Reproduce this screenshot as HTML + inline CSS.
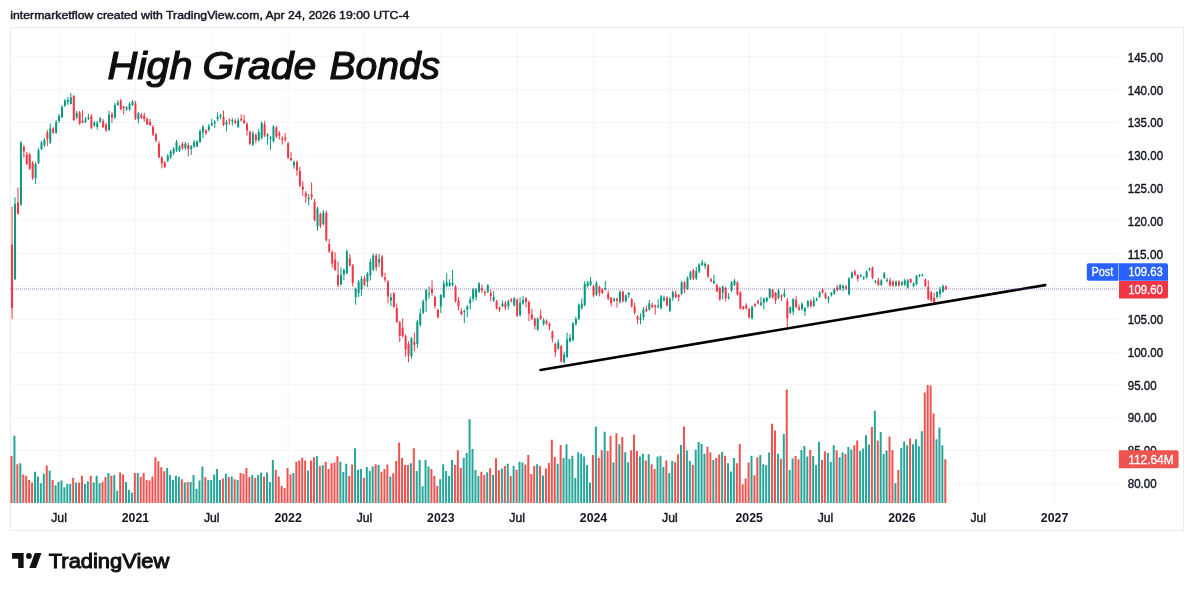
<!DOCTYPE html>
<html><head><meta charset="utf-8"><style>
html,body{margin:0;padding:0;background:#fff;}
body{width:1194px;height:591px;position:relative;overflow:hidden;font-family:"Liberation Sans",sans-serif;}
svg{position:absolute;left:0;top:0;will-change:transform;}
</style></head><body>
<svg width="1194" height="591" viewBox="0 0 1194 591" font-family="Liberation Sans, sans-serif">
<rect x="10.5" y="27.5" width="1173" height="503" fill="none" stroke="#ececec" stroke-width="1"/>
<g stroke="#f5f5f5" stroke-width="1" fill="none">
<path d="M10 483.2H1118M10 450.41H1118M10 417.63H1118M10 384.84H1118M10 352.06H1118M10 319.27H1118M10 286.49H1118M10 253.7H1118M10 220.92H1118M10 188.13H1118M10 155.35H1118M10 122.56H1118M10 89.78H1118M10 56.99H1118" shape-rendering="crispEdges"/>
<path d="M59.08 27V503M135.43 27V503M211.78 27V503M288.13 27V503M364.48 27V503M440.83 27V503M517.18 27V503M593.53 27V503M669.88 27V503M749.16 27V503M825.51 27V503M901.86 27V503M978.21 27V503M1054.56 27V503"/>
</g>
<g font-size="39" font-style="italic" fill="#0e0e0e" stroke="#0e0e0e" stroke-width="1.2"><text x="107.6" y="78.8" textLength="85" lengthAdjust="spacingAndGlyphs">High</text><text x="202.6" y="78.8" textLength="113.6" lengthAdjust="spacingAndGlyphs">Grade</text><text x="329.5" y="78.8" textLength="110.6" lengthAdjust="spacingAndGlyphs">Bonds</text></g>
<g>
<path d="M13.44 435.8h2V503h-2zM19.31 463.3h2V503h-2zM33.99 471.7h2V503h-2zM36.93 476.5h2V503h-2zM39.87 483.2h2V503h-2zM42.8 473.8h2V503h-2zM48.67 470.4h2V503h-2zM54.55 485.3h2V503h-2zM57.48 481.9h2V503h-2zM60.42 480.5h2V503h-2zM63.36 487.3h2V503h-2zM66.29 483.9h2V503h-2zM69.23 483.9h2V503h-2zM75.1 482.6h2V503h-2zM83.91 483.9h2V503h-2zM86.85 481.2h2V503h-2zM92.72 482.6h2V503h-2zM95.66 475.8h2V503h-2zM98.59 483.2h2V503h-2zM107.4 473.1h2V503h-2zM113.28 475.1h2V503h-2zM116.21 490.7h2V503h-2zM125.02 481.9h2V503h-2zM127.96 490h2V503h-2zM130.9 492.5h2V503h-2zM136.77 473.1h2V503h-2zM166.13 467.9h2V503h-2zM169.07 475.1h2V503h-2zM172.01 479.9h2V503h-2zM174.94 475.8h2V503h-2zM177.88 477.1h2V503h-2zM183.75 482.6h2V503h-2zM189.63 481.9h2V503h-2zM192.56 475.1h2V503h-2zM195.5 488.7h2V503h-2zM198.44 480.5h2V503h-2zM201.37 466.6h2V503h-2zM207.25 479.9h2V503h-2zM210.18 479.9h2V503h-2zM213.12 474.4h2V503h-2zM216.06 469h2V503h-2zM218.99 479.9h2V503h-2zM224.86 473.8h2V503h-2zM230.74 476.5h2V503h-2zM236.61 479.9h2V503h-2zM251.29 475.1h2V503h-2zM257.17 475.1h2V503h-2zM260.1 472.4h2V503h-2zM265.98 472.4h2V503h-2zM268.91 481.9h2V503h-2zM271.85 459.9h2V503h-2zM292.4 473.1h2V503h-2zM307.09 470.4h2V503h-2zM315.9 456.2h2V503h-2zM321.77 465.2h2V503h-2zM339.39 461.8h2V503h-2zM342.32 472h2V503h-2zM345.26 463.8h2V503h-2zM354.07 448.2h2V503h-2zM357.01 469.8h2V503h-2zM359.94 469.1h2V503h-2zM365.82 467.1h2V503h-2zM368.75 471h2V503h-2zM371.69 466.5h2V503h-2zM377.56 464.9h2V503h-2zM389.31 476.4h2V503h-2zM409.86 463.3h2V503h-2zM415.74 471h2V503h-2zM418.67 459.9h2V503h-2zM421.61 486.3h2V503h-2zM424.55 459.9h2V503h-2zM427.48 466.5h2V503h-2zM439.23 479.3h2V503h-2zM442.17 464.2h2V503h-2zM445.1 471h2V503h-2zM448.04 475.9h2V503h-2zM450.98 459.9h2V503h-2zM462.72 457.9h2V503h-2zM465.66 453.1h2V503h-2zM468.59 419.2h2V503h-2zM471.53 449h2V503h-2zM474.47 469.9h2V503h-2zM477.4 475.9h2V503h-2zM486.21 472.3h2V503h-2zM492.09 475.1h2V503h-2zM500.9 468.6h2V503h-2zM506.77 463.8h2V503h-2zM512.64 465.9h2V503h-2zM518.51 461.7h2V503h-2zM521.45 462.5h2V503h-2zM536.13 464.3h2V503h-2zM542.01 475.5h2V503h-2zM556.69 463.8h2V503h-2zM562.56 457.9h2V503h-2zM565.5 444.2h2V503h-2zM568.44 459h2V503h-2zM571.37 455.8h2V503h-2zM574.31 478h2V503h-2zM577.24 452.2h2V503h-2zM580.18 453.7h2V503h-2zM583.12 456.6h2V503h-2zM586.05 465.1h2V503h-2zM588.99 482.6h2V503h-2zM594.86 426.4h2V503h-2zM603.67 431.7h2V503h-2zM612.48 462.2h2V503h-2zM618.36 444.2h2V503h-2zM624.23 452.2h2V503h-2zM627.17 462.2h2V503h-2zM638.91 456.6h2V503h-2zM641.85 453.7h2V503h-2zM647.72 454.2h2V503h-2zM656.53 456.6h2V503h-2zM659.47 455.8h2V503h-2zM662.4 467h2V503h-2zM668.28 473.1h2V503h-2zM671.21 461.1h2V503h-2zM680.02 445h2V503h-2zM685.89 450.5h2V503h-2zM688.83 461.1h2V503h-2zM694.7 449.8h2V503h-2zM697.64 442h2V503h-2zM700.58 443.9h2V503h-2zM703.51 453.7h2V503h-2zM712.32 460h2V503h-2zM721.13 452h2V503h-2zM727.01 463.2h2V503h-2zM729.94 471.4h2V503h-2zM732.88 457.9h2V503h-2zM750.5 455.8h2V503h-2zM759.31 455.1h2V503h-2zM762.24 464.2h2V503h-2zM765.18 465.3h2V503h-2zM768.12 452.6h2V503h-2zM776.93 453.7h2V503h-2zM782.8 434h2V503h-2zM788.67 470h2V503h-2zM791.61 458.5h2V503h-2zM800.42 450.1h2V503h-2zM803.36 445.9h2V503h-2zM806.29 456.5h2V503h-2zM812.16 456h2V503h-2zM815.1 464.9h2V503h-2zM818.04 441.8h2V503h-2zM826.85 453h2V503h-2zM829.78 461.9h2V503h-2zM832.72 445.3h2V503h-2zM838.59 457.2h2V503h-2zM841.53 452.4h2V503h-2zM847.4 447.1h2V503h-2zM850.34 449.4h2V503h-2zM859.15 450.7h2V503h-2zM862.09 448.4h2V503h-2zM865.02 435.2h2V503h-2zM867.96 444.4h2V503h-2zM873.83 410.7h2V503h-2zM879.7 432h2V503h-2zM882.64 453.9h2V503h-2zM885.58 450.6h2V503h-2zM894.39 483.2h2V503h-2zM900.26 447.9h2V503h-2zM903.2 441.4h2V503h-2zM906.13 445.3h2V503h-2zM912.01 444.2h2V503h-2zM914.94 439.3h2V503h-2zM917.88 446.2h2V503h-2zM920.82 431.3h2V503h-2zM935.5 439.3h2V503h-2zM938.43 427.5h2V503h-2zM941.37 445.3h2V503h-2z" fill="#26a69a"/>
<path d="M10.5 455.9h2V503h-2zM16.37 464.3h2V503h-2zM22.25 474.4h2V503h-2zM25.18 475.8h2V503h-2zM28.12 479.9h2V503h-2zM31.06 482.6h2V503h-2zM45.74 465.6h2V503h-2zM51.61 479.9h2V503h-2zM72.17 477.8h2V503h-2zM78.04 482.6h2V503h-2zM80.98 475.8h2V503h-2zM89.79 475.8h2V503h-2zM101.53 481.9h2V503h-2zM104.47 477.1h2V503h-2zM110.34 475.8h2V503h-2zM119.15 472.4h2V503h-2zM122.09 474.4h2V503h-2zM133.83 473.1h2V503h-2zM139.71 477.1h2V503h-2zM142.64 473.1h2V503h-2zM145.58 479.9h2V503h-2zM148.52 480.5h2V503h-2zM151.45 476.5h2V503h-2zM154.39 457.2h2V503h-2zM157.33 461.2h2V503h-2zM160.26 467.3h2V503h-2zM163.2 471.3h2V503h-2zM180.82 479.2h2V503h-2zM186.69 481.9h2V503h-2zM204.31 477.1h2V503h-2zM221.93 478.5h2V503h-2zM227.8 477.1h2V503h-2zM233.67 479.2h2V503h-2zM239.55 473.1h2V503h-2zM242.48 473.8h2V503h-2zM245.42 467.9h2V503h-2zM248.36 477.1h2V503h-2zM254.23 477.8h2V503h-2zM263.04 476.5h2V503h-2zM274.79 470h2V503h-2zM277.72 476.5h2V503h-2zM280.66 486h2V503h-2zM283.59 488h2V503h-2zM286.53 467.9h2V503h-2zM289.47 474.4h2V503h-2zM295.34 461.8h2V503h-2zM298.28 460.5h2V503h-2zM301.21 457.8h2V503h-2zM304.15 460.5h2V503h-2zM310.02 460.5h2V503h-2zM312.96 457.2h2V503h-2zM318.83 465.9h2V503h-2zM324.71 461.8h2V503h-2zM327.64 469h2V503h-2zM330.58 463.2h2V503h-2zM333.51 462.5h2V503h-2zM336.45 456.2h2V503h-2zM348.2 476h2V503h-2zM351.13 464.5h2V503h-2zM362.88 477.7h2V503h-2zM374.63 464.2h2V503h-2zM380.5 471.8h2V503h-2zM383.44 469.1h2V503h-2zM386.37 464.5h2V503h-2zM392.25 473.2h2V503h-2zM395.18 461h2V503h-2zM398.12 442.4h2V503h-2zM401.05 457.9h2V503h-2zM403.99 464.9h2V503h-2zM406.93 464.9h2V503h-2zM412.8 448.2h2V503h-2zM430.42 469.1h2V503h-2zM433.36 475.9h2V503h-2zM436.29 485.8h2V503h-2zM453.91 464.9h2V503h-2zM456.85 450.3h2V503h-2zM459.78 467.8h2V503h-2zM480.34 471.8h2V503h-2zM483.28 475.1h2V503h-2zM489.15 468.3h2V503h-2zM495.02 458.2h2V503h-2zM497.96 470.2h2V503h-2zM503.83 465.9h2V503h-2zM509.71 475.9h2V503h-2zM515.58 469.8h2V503h-2zM524.39 464.6h2V503h-2zM527.32 455h2V503h-2zM530.26 473.9h2V503h-2zM533.2 465.9h2V503h-2zM539.07 465.9h2V503h-2zM544.94 468.6h2V503h-2zM547.88 463h2V503h-2zM550.82 439.7h2V503h-2zM553.75 457.1h2V503h-2zM559.63 445h2V503h-2zM591.93 455h2V503h-2zM597.8 457.9h2V503h-2zM600.74 450.2h2V503h-2zM606.61 451h2V503h-2zM609.55 435.7h2V503h-2zM615.42 433.3h2V503h-2zM621.29 437h2V503h-2zM630.1 450.2h2V503h-2zM633.04 434.4h2V503h-2zM635.97 451h2V503h-2zM644.78 460.6h2V503h-2zM650.66 464.3h2V503h-2zM653.59 469.1h2V503h-2zM665.34 460.6h2V503h-2zM674.15 462.2h2V503h-2zM677.09 454.2h2V503h-2zM682.96 426.4h2V503h-2zM691.77 464.7h2V503h-2zM706.45 446.7h2V503h-2zM709.39 452.6h2V503h-2zM715.26 457.9h2V503h-2zM718.2 454.5h2V503h-2zM724.07 455.8h2V503h-2zM735.82 463.2h2V503h-2zM738.75 443.9h2V503h-2zM741.69 484.3h2V503h-2zM744.62 478.4h2V503h-2zM747.56 462.5h2V503h-2zM753.43 475.2h2V503h-2zM756.37 457.2h2V503h-2zM771.05 423.8h2V503h-2zM773.99 430.4h2V503h-2zM779.86 458.7h2V503h-2zM785.74 389.5h2V503h-2zM794.55 455.9h2V503h-2zM797.48 459.3h2V503h-2zM809.23 450.1h2V503h-2zM820.97 460.1h2V503h-2zM823.91 451.2h2V503h-2zM835.66 450.3h2V503h-2zM844.47 453.9h2V503h-2zM853.28 445.3h2V503h-2zM856.21 440.5h2V503h-2zM870.89 427h2V503h-2zM876.77 440.5h2V503h-2zM888.51 436.5h2V503h-2zM891.45 450h2V503h-2zM897.32 470.1h2V503h-2zM909.07 438.6h2V503h-2zM923.75 392.6h2V503h-2zM926.69 384.9h2V503h-2zM929.62 385.5h2V503h-2zM932.56 413.5h2V503h-2zM944.31 459.3h2V503h-2z" fill="#ef5350"/>
</g>
<g stroke-width="1.0">
<path d="M15.04 197.3V279.5M20.91 141V206M35.59 162V184M38.53 148V164M41.47 141V150M44.4 138V147M50.27 123.5V144M56.15 120V134M59.08 114V123M62.02 105V118M64.96 99V107M67.89 97V105M70.83 93V104.5M76.7 111V119M85.51 117V123M88.45 114V120M94.32 121V127M97.26 121V129.5M100.19 117V123M109 110.8V131M114.88 103V119M117.81 100V106M126.62 106V111M129.56 102V111M132.5 100V106M138.37 112V123.5M167.73 154V162M170.67 150V159M173.61 147V155M176.54 140V152M179.48 145V152M185.35 142V150M191.23 145V154.8M194.16 140V148M197.1 140V147M200.04 129V143M202.97 125V138.1M208.85 124V131.5M211.78 118.9V126M214.72 120V128M217.66 112.3V121.4M220.59 113.8V119.4M226.46 120V131.5M232.34 118V125.5M238.21 117.8V128M252.89 131V146M258.77 129V141.5M261.7 121.5V139.5M267.58 133V144.7M270.51 136V149.8M273.45 125V142.5M294 160.5V168.8M308.69 194V205.3M317.5 207V230.7M323.37 210V225.5M340.99 267.4V285.5M343.92 268.5V280.3M346.86 249.4V274.5M355.67 287.5V304.7M358.61 280V297.2M361.54 276.2V295.9M367.42 272.2V287M370.35 259V280.3M373.29 253.5V271M379.16 254V267M390.91 293.2V306M411.46 337V358.9M417.34 320V348M420.27 308.9V326.5M423.21 299.5V314.2M426.15 289V312M429.08 286.4V298.8M440.83 294V313M443.77 280.5V298.5M446.7 273.4V287M449.64 279.3V287M452.58 269.8V286.5M464.32 309.5V323.1M467.26 305V317.2M470.19 296.5V309.5M473.13 288V301.8M476.07 288V300.6M479 282V293M487.81 284V293M493.69 291.1V302M502.5 300.6V307.1M508.37 300V309.5M514.24 297V306.6M520.11 297.5V316.5M523.05 296V305M537.73 317.3V331M543.61 318V325.7M558.29 339.4V350M564.16 351.5V363.5M567.1 332.5V358M570.04 334V342.4M572.97 322V341.5M575.91 316.5V325.5M578.84 303.5V320M581.78 298.3V309.5M584.72 281V306.5M587.65 281V287.5M590.59 277.2V286M596.46 281V296M605.27 281V290.5M614.08 297.5V302M619.96 290.5V303.5M625.83 294.5V302.5M628.77 292V298.1M640.51 313.4V324.2M643.45 307V320.4M649.32 300V310.8M658.13 299.4V308.3M661.07 295V309.5M664 295.5V301.5M669.88 297.3V312M672.81 290.5V300.8M681.62 281V295M687.5 276.5V290M690.43 270.8V280M696.3 267.1V280M699.24 263.2V273M702.18 260V266M705.11 262V269M713.92 274.7V284.3M722.73 285.5V299.5M728.61 293.2V299.5M731.54 281V292M734.48 279V286M752.1 305.5V319.5M760.91 296.8V306.3M763.84 297.5V309.5M766.78 296.8V302.5M769.72 288V298.7M778.53 288.6V299.3M784.4 288.6V297.5M790.27 306.3V314M793.21 298V315.2M802.02 302.5V310.8M804.96 307V315.8M807.89 300V308.2M813.76 296.8V307M816.7 297.4V301.2M819.64 291.1V298M828.45 296.1V303.1M831.38 292V296.5M834.32 288V294.8M840.19 284V290.5M843.13 284.6V291.2M849 277.2V295.5M851.94 271.5V279M860.75 274V277.5M863.69 276V280M866.62 270.2V278.5M869.56 267.7V271M875.43 280V283.5M881.3 279V286M884.24 272V279M887.18 277.8V282.3M895.99 280.4V286.7M901.86 281V286M904.8 278.5V286M907.73 279V288.6M913.61 282.3V287.3M916.54 274.8V285.5M919.48 274V277M922.42 273.5V276.5M937.1 291V298.5M940.03 286.9V297.6M942.97 284.4V292.8" stroke="#089981"/>
<path d="M12.1 206.7V319.1M17.97 187.6V215M23.85 145V157.8M26.78 152V165M29.72 153V170M32.66 161V180M47.34 130V146M53.21 127V134M73.77 95V121M79.64 111V125M82.58 110.2V123.2M91.39 114V129M103.13 119V128M106.07 123V132M111.94 112V123M120.75 99V110M123.69 105.8V114.6M135.43 101V120M141.31 112.8V119M144.24 112.8V121.9M147.18 117.5V125M150.12 118.9V126M153.05 125V136M155.99 133V142M158.93 141.3V158M161.86 156V168.4M164.8 161V168M182.42 142V150M188.29 143V156M205.91 129V135M223.53 110.7V126M229.4 118.4V125M235.27 119V124M241.15 114.3V121.5M244.08 114.8V124M247.02 122V135.6M249.96 130.5V145M255.83 133.5V143.2M264.64 120.9V137M276.39 126V138M279.32 131V139.7M282.26 136.3V144.6M285.19 133V141.7M288.13 142V159M291.07 152V161M296.94 160.5V175.6M299.88 167V187M302.81 181V196M305.75 191V202.8M311.62 182.4V200M314.56 199V221.5M320.43 212.5V228M326.31 210.5V241.5M329.24 239V253M332.18 250.5V267.7M335.12 252V271M338.05 261.6V287M349.8 254V266.5M352.73 264V286.4M364.48 275.6V286.4M376.23 253.5V270.8M382.1 255V277.5M385.04 272.9V282.3M387.97 280V303.3M393.85 292V308M396.78 303.4V323M399.72 321V342M402.65 318.3V337.5M405.59 334.5V356.8M408.53 341.3V362.2M414.4 332.5V351.4M432.02 280.5V295.9M434.96 295.5V308.9M437.89 308.5V318.5M455.51 285V302.5M458.45 297V310.7M461.38 308.3V315.4M481.94 284.6V292.9M484.88 290.5V295.9M490.75 289.4V301.2M496.62 300V309.5M499.56 306.5V311.9M505.43 301V310M511.31 298.2V302.4M517.18 298.5V317M525.99 297V307.4M528.92 300.5V321.1M531.86 308.9V320M534.8 317.5V329.5M540.67 309.7V320M546.54 319.5V325M549.48 322.5V330.2M552.42 330.5V342.4M555.35 342.5V356.9M561.23 345V362.7M593.53 285V297M599.4 285.5V296.3M602.34 288V294.3M608.21 290.5V300M611.15 297V306.4M617.02 297.5V307.7M622.89 290.5V302.5M631.7 298V307.5M634.64 302.6V314.6M637.57 315V324.2M646.38 305.8V312M652.26 302.6V308.3M655.19 304.5V314.6M666.94 296.3V306.5M675.75 290.6V298.3M678.69 293.8V301.4M684.56 281V293.1M693.37 269V280M708.05 264V278M710.99 278V282.4M716.86 283.5V292.5M719.8 286.8V300.8M725.67 286.8V301.4M737.42 281V295.6M740.35 291.2V309.7M743.29 305.8V309.7M746.23 303.3V309.5M749.16 307.7V318.5M755.03 303.1V307.2M757.97 299.4V304.5M772.65 289.2V298.7M775.59 291.8V303.8M781.46 294.3V301.2M787.34 298V328.5M796.15 296.2V308.3M799.08 304.4V310.8M810.83 299.3V307.6M822.57 288V293.6M825.51 292.4V299.3M837.26 285V291.5M846.07 284.8V290M854.88 269.6V276M857.81 274V281.6M872.49 266.5V279M878.37 277.8V286M890.11 277.8V286.7M893.05 280.4V286.7M898.92 280.4V286.7M910.67 278.5V283.5M925.35 278.5V287M928.29 280.5V300M931.22 291V302M934.16 292.5V304M945.91 285.4V290.5" stroke="#F23645"/>
</g>
<path d="M14.04 204.1h2v75.4h-2zM19.91 142.6h2v61.9h-2zM34.59 164.1h2v14h-2zM37.53 150.2h2v12.7h-2zM40.47 142.6h2v6.3h-2zM43.4 140h2v5.1h-2zM49.27 128.6h2v14h-2zM55.15 122.3h2v10.1h-2zM58.08 115.9h2v5.1h-2zM61.02 107h2v10.2h-2zM63.96 100.7h2v5.1h-2zM66.89 100h2v2h-2zM69.83 97.5h2v6.4h-2zM75.7 113h2v4.6h-2zM84.51 119.3h2v2.5h-2zM87.45 117.2h2v1.9h-2zM93.32 122.7h2v2.5h-2zM96.26 122.7h2v4.2h-2zM99.19 118.5h2v3.3h-2zM108 114.6h2v15.3h-2zM113.88 104.9h2v12.7h-2zM116.81 102.4h2v2.5h-2zM125.62 107.5h2v1.7h-2zM128.56 104h2v5.2h-2zM131.5 101.5h2v3.4h-2zM137.37 113.4h2v5.9h-2zM166.73 155.7h2v5.1h-2zM169.67 151.5h2v5.9h-2zM172.61 148.9h2v4.2h-2zM175.54 142.1h2v8.5h-2zM178.48 146.4h2v4.2h-2zM184.35 143.8h2v4.3h-2zM190.23 146.4h2v2.5h-2zM193.16 142.1h2v4.3h-2zM196.1 141.7h2v4.7h-2zM199.04 131h2v11.1h-2zM201.97 126.5h2v6.1h-2zM207.85 126h2v4h-2zM210.78 123.4h2v2.1h-2zM213.72 121.9h2v1.5h-2zM216.66 116.8h2v2.1h-2zM219.59 115.3h2v1.5h-2zM225.46 121.9h2v2.5h-2zM231.34 119.9h2v1.5h-2zM237.21 120.4h2v6.6h-2zM251.89 133.6h2v11.1h-2zM257.77 132h2v8.2h-2zM260.7 122.9h2v15.2h-2zM266.58 134.6h2v2h-2zM269.51 137.6h2v1.6h-2zM272.45 127h2v14.2h-2zM293 162h2v3.4h-2zM307.69 197.7h2v1.5h-2zM316.5 208.4h2v18.2h-2zM322.37 212.4h2v11.6h-2zM339.99 274.9h2v9.5h-2zM342.92 270h2v4.2h-2zM345.86 251.4h2v21.6h-2zM354.67 289h2v8.2h-2zM357.61 281.7h2v11.5h-2zM360.54 279h2v10h-2zM366.42 273.5h2v8.2h-2zM369.35 262h2v13.6h-2zM372.29 255.5h2v14h-2zM378.16 258.9h2v3.8h-2zM389.91 297.2h2v3.4h-2zM410.46 338.6h2v17.6h-2zM416.34 321.5h2v22.5h-2zM419.27 313.6h2v11.4h-2zM422.21 301.3h2v11.4h-2zM425.15 290h2v10.6h-2zM428.08 293.5h2v1.2h-2zM439.83 295.3h2v11.2h-2zM442.77 283.4h2v13.6h-2zM445.7 282.3h2v3.5h-2zM448.64 282.8h2v3h-2zM451.58 282.8h2v2.4h-2zM463.32 310.7h2v1.2h-2zM466.26 306.5h2v3h-2zM469.19 299.4h2v4.2h-2zM472.13 289.4h2v9.4h-2zM475.07 289.4h2v7.6h-2zM478 283.4h2v8.3h-2zM486.81 285.2h2v6.5h-2zM492.69 297h2v3.6h-2zM501.5 303.6h2v2.9h-2zM507.37 301.3h2v4.7h-2zM513.24 298.2h2v6.9h-2zM519.11 302.8h2v12.2h-2zM522.05 299.8h2v3.8h-2zM536.73 318.8h2v10.7h-2zM542.61 320.3h2v3.8h-2zM557.29 342.4h2v6.1h-2zM563.16 354.6h2v7.6h-2zM566.1 339.4h2v17.5h-2zM569.04 337.8h2v3.1h-2zM571.97 323.4h2v16.7h-2zM574.91 319h2v5.2h-2zM577.84 304.8h2v14.2h-2zM580.78 303.8h2v4.4h-2zM583.72 284h2v21.1h-2zM586.65 282.6h2v3.5h-2zM589.59 281.2h2v3.5h-2zM595.46 283h2v11.8h-2zM604.27 288h2v1.3h-2zM613.08 298.8h2v1.9h-2zM618.96 291.8h2v10.2h-2zM624.83 295.6h2v5.7h-2zM627.77 293.1h2v1.9h-2zM639.51 317.8h2v1.9h-2zM642.45 309.6h2v7.6h-2zM648.32 303.2h2v6.4h-2zM657.13 305.8h2v1.2h-2zM660.07 296.6h2v11.7h-2zM663 297.8h2v2.6h-2zM668.88 298.5h2v12.4h-2zM671.81 292h2v5.8h-2zM680.62 282.4h2v11.4h-2zM686.5 277.9h2v10.8h-2zM689.43 272.2h2v6.4h-2zM695.3 271h2v7.6h-2zM698.24 264.6h2v7h-2zM701.18 262.6h2v2.5h-2zM704.11 264h2v1.9h-2zM712.92 281.1h2v1.9h-2zM721.73 286.8h2v5.7h-2zM727.61 297h2v1.2h-2zM730.54 282.4h2v8.2h-2zM733.48 280.5h2v4.4h-2zM751.1 306.8h2v11.4h-2zM759.91 302.5h2v2.5h-2zM762.84 298.7h2v3.8h-2zM765.78 298h2v3.2h-2zM768.72 289.2h2v8.2h-2zM777.53 290.5h2v7.5h-2zM783.4 293.6h2v2.6h-2zM789.27 307.6h2v5.1h-2zM792.21 299.3h2v12.1h-2zM801.02 303.8h2v5.1h-2zM803.96 308.2h2v3.2h-2zM806.89 301.2h2v5.1h-2zM812.76 300.6h2v5.1h-2zM815.7 298.7h2v1.9h-2zM818.64 292.4h2v4.4h-2zM827.45 297.4h2v1.9h-2zM830.38 293h2v2.3h-2zM833.32 289.2h2v4.4h-2zM839.19 285.1h2v4.1h-2zM842.13 285.8h2v2.2h-2zM848 278.5h2v15.8h-2zM850.94 272.8h2v5h-2zM859.75 275.3h2v1h-2zM862.69 277.2h2v1.3h-2zM865.62 271.5h2v5.7h-2zM868.56 268.3h2v1.3h-2zM874.43 281.3h2v1h-2zM880.3 280.4h2v4.4h-2zM883.24 273.4h2v4.4h-2zM886.18 279.7h2v1.3h-2zM894.99 281.6h2v3.9h-2zM900.86 282.3h2v2.5h-2zM903.8 280.4h2v4.4h-2zM906.73 280.4h2v7h-2zM912.61 283.5h2v2.6h-2zM915.54 276h2v8.2h-2zM918.48 275h2v1h-2zM921.42 274.7h2v1h-2zM936.1 292h2v5.1h-2zM939.03 289.4h2v4.6h-2zM941.97 285.9h2v5.6h-2z" fill="#089981"/>
<path d="M11.1 244.7h2v63.5h-2zM16.97 202.3h2v11.2h-2zM22.85 146.9h2v4.6h-2zM25.78 154.5h2v9.6h-2zM28.72 154.5h2v14.2h-2zM31.66 162.9h2v15.2h-2zM46.34 132.4h2v6.4h-2zM52.21 128.6h2v3.8h-2zM72.77 96.1h2v24h-2zM78.64 112.5h2v11h-2zM81.58 121h2v1.7h-2zM90.39 115.9h2v11.9h-2zM102.13 121h2v5.9h-2zM105.07 124.4h2v5.9h-2zM110.94 114.2h2v3.4h-2zM119.75 100.7h2v8.5h-2zM122.69 106.5h2v1.5h-2zM134.43 103.2h2v15.3h-2zM140.31 115.3h2v2.5h-2zM143.24 115.8h2v3.1h-2zM146.18 118.9h2v5.5h-2zM149.12 121.9h2v3.1h-2zM152.05 126.9h2v7.6h-2zM154.99 134.5h2v6h-2zM157.93 143.8h2v13.6h-2zM160.86 157.4h2v5.9h-2zM163.8 162.5h2v4.2h-2zM181.42 143.8h2v4.3h-2zM187.29 145.2h2v3.8h-2zM204.91 130.5h2v2.6h-2zM222.53 116.8h2v8.2h-2zM228.4 119.4h2v1h-2zM234.27 120.9h2v2h-2zM240.15 118.9h2v1.5h-2zM243.08 120.4h2v2.5h-2zM246.02 123.9h2v6.6h-2zM248.96 132h2v11.7h-2zM254.83 135.1h2v5.1h-2zM263.64 124.4h2v11.2h-2zM275.39 127.5h2v9.1h-2zM278.32 133.6h2v2h-2zM281.26 138.5h2v1.5h-2zM284.19 137.6h2v1.6h-2zM287.13 143.4h2v14.3h-2zM290.07 158.3h2v2h-2zM295.94 162h2v8.2h-2zM298.88 170.9h2v14.8h-2zM301.81 186.4h2v3.2h-2zM304.75 193.1h2v3.6h-2zM310.62 194.6h2v2.6h-2zM313.56 201.8h2v18.2h-2zM319.43 213.9h2v11.7h-2zM325.31 212.9h2v27.4h-2zM328.24 244h2v7.4h-2zM331.18 252h2v11.6h-2zM334.12 259.5h2v10.2h-2zM337.05 275h2v10h-2zM348.8 258.2h2v7.2h-2zM351.73 265.4h2v17.6h-2zM363.48 278.3h2v6.7h-2zM375.23 255.5h2v11.9h-2zM381.1 256.8h2v19.4h-2zM384.04 277.6h2v2h-2zM386.97 281.7h2v14.8h-2zM392.85 293.2h2v13.5h-2zM395.78 308.1h2v13.6h-2zM398.72 322.3h2v13.6h-2zM401.65 327.7h2v8.2h-2zM404.59 335.9h2v13.5h-2zM407.53 344h2v11.5h-2zM413.4 342h2v2.7h-2zM431.02 288.8h2v4.1h-2zM433.96 297h2v9h-2zM436.89 310h2v7.2h-2zM454.51 286.4h2v14.8h-2zM457.45 300.6h2v5.9h-2zM460.38 311.3h2v2.9h-2zM480.94 288.2h2v2.3h-2zM483.88 291.7h2v1.2h-2zM489.75 292.9h2v3h-2zM495.62 301.2h2v7.1h-2zM498.56 307.7h2v1.8h-2zM504.43 303.5h2v4h-2zM510.31 299.4h2v1.8h-2zM516.18 299.8h2v16h-2zM524.99 298.3h2v3.7h-2zM527.92 302h2v11.5h-2zM530.86 314.2h2v4.6h-2zM533.8 318.8h2v6.9h-2zM539.67 315.8h2v3h-2zM545.54 321.1h2v2.3h-2zM548.48 324.1h2v2.3h-2zM551.42 331.8h2v6.8h-2zM554.35 343.9h2v8.4h-2zM560.23 346.2h2v15.2h-2zM592.53 286.1h2v9.3h-2zM598.4 287.1h2v5.6h-2zM601.34 289.3h2v3.8h-2zM607.21 293.7h2v5.1h-2zM610.15 298.1h2v5.1h-2zM616.02 298.8h2v1.9h-2zM621.89 291.8h2v9.5h-2zM630.7 299.4h2v7h-2zM633.64 306.4h2v6.3h-2zM636.57 316.5h2v3.2h-2zM645.38 308.9h2v1.9h-2zM651.26 305.1h2v1.9h-2zM654.19 305.8h2v1.2h-2zM665.94 297.5h2v7.7h-2zM674.75 293.8h2v3.2h-2zM677.69 295h2v2h-2zM683.56 282.4h2v6.9h-2zM692.37 270.3h2v8.3h-2zM707.05 265.2h2v11.4h-2zM709.99 279.2h2v1.9h-2zM715.86 284.9h2v6.3h-2zM718.8 288h2v11.5h-2zM724.67 288h2v10.2h-2zM736.42 282.4h2v12h-2zM739.35 292.5h2v15.9h-2zM742.29 306.5h2v2.5h-2zM745.23 305.4h2v2.9h-2zM748.16 308.9h2v8.3h-2zM754.03 304.2h2v1.8h-2zM756.97 301.3h2v1.9h-2zM771.65 289.8h2v7.6h-2zM774.59 293h2v7h-2zM780.46 295.5h2v1.3h-2zM786.34 301.2h2v17.2h-2zM795.15 300h2v7h-2zM798.08 307.6h2v1.9h-2zM809.83 301.2h2v5.1h-2zM821.57 289.8h2v2.6h-2zM824.51 293.6h2v4.4h-2zM836.26 287.3h2v2.9h-2zM845.07 286.7h2v1.9h-2zM853.88 271.5h2v3.2h-2zM856.81 275.3h2v3.8h-2zM871.49 267.7h2v10.1h-2zM877.37 280.4h2v4.4h-2zM889.11 280.4h2v5.1h-2zM892.05 281.6h2v3.9h-2zM897.92 281.6h2v3.9h-2zM909.67 279.1h2v3.2h-2zM924.35 279.5h2v6.2h-2zM927.29 286.9h2v11.8h-2zM930.22 292.5h2v8.1h-2zM933.16 298.1h2v4.5h-2zM944.91 286.4h2v2.5h-2z" fill="#F23645"/>
<line x1="540.5" y1="370" x2="1045.2" y2="285.1" stroke="#000" stroke-width="2.6" stroke-linecap="round"/>
<g stroke-width="1" fill="none" shape-rendering="crispEdges">
<line x1="10" y1="288.5" x2="1118" y2="288.5" stroke="#2962FF" stroke-opacity="0.35" stroke-dasharray="1 1"/>
<line x1="10" y1="289.5" x2="1118" y2="289.5" stroke="#F23645" stroke-opacity="0.35" stroke-dasharray="1 1"/>
</g>
<g font-size="12" fill="#131722" stroke="#131722" stroke-width="0.4">
<text x="1127.8" y="488" textLength="28.83" lengthAdjust="spacingAndGlyphs">80.00</text><text x="1127.8" y="422.43" textLength="28.83" lengthAdjust="spacingAndGlyphs">90.00</text><text x="1127.8" y="389.64" textLength="28.83" lengthAdjust="spacingAndGlyphs">95.00</text><text x="1127.8" y="356.86" textLength="35.24" lengthAdjust="spacingAndGlyphs">100.00</text><text x="1127.8" y="324.07" textLength="35.24" lengthAdjust="spacingAndGlyphs">105.00</text><text x="1127.8" y="258.5" textLength="35.24" lengthAdjust="spacingAndGlyphs">115.00</text><text x="1127.8" y="225.72" textLength="35.24" lengthAdjust="spacingAndGlyphs">120.00</text><text x="1127.8" y="192.94" textLength="35.24" lengthAdjust="spacingAndGlyphs">125.00</text><text x="1127.8" y="160.15" textLength="35.24" lengthAdjust="spacingAndGlyphs">130.00</text><text x="1127.8" y="127.36" textLength="35.24" lengthAdjust="spacingAndGlyphs">135.00</text><text x="1127.8" y="94.58" textLength="35.24" lengthAdjust="spacingAndGlyphs">140.00</text><text x="1127.8" y="61.79" textLength="35.24" lengthAdjust="spacingAndGlyphs">145.00</text><text x="1127.8" y="455.21" textLength="28.83" lengthAdjust="spacingAndGlyphs">85.00</text>
</g>
<g font-size="12" fill="#131722" stroke="#131722" stroke-width="0.4">
<text x="51.28" y="521.7" textLength="15.6" lengthAdjust="spacingAndGlyphs">Jul</text><text x="121.73" y="521.7" textLength="27.4" lengthAdjust="spacingAndGlyphs" font-weight="bold" stroke-width="0">2021</text><text x="203.98" y="521.7" textLength="15.6" lengthAdjust="spacingAndGlyphs">Jul</text><text x="274.43" y="521.7" textLength="27.4" lengthAdjust="spacingAndGlyphs" font-weight="bold" stroke-width="0">2022</text><text x="356.68" y="521.7" textLength="15.6" lengthAdjust="spacingAndGlyphs">Jul</text><text x="427.13" y="521.7" textLength="27.4" lengthAdjust="spacingAndGlyphs" font-weight="bold" stroke-width="0">2023</text><text x="509.38" y="521.7" textLength="15.6" lengthAdjust="spacingAndGlyphs">Jul</text><text x="579.83" y="521.7" textLength="27.4" lengthAdjust="spacingAndGlyphs" font-weight="bold" stroke-width="0">2024</text><text x="662.08" y="521.7" textLength="15.6" lengthAdjust="spacingAndGlyphs">Jul</text><text x="735.46" y="521.7" textLength="27.4" lengthAdjust="spacingAndGlyphs" font-weight="bold" stroke-width="0">2025</text><text x="817.71" y="521.7" textLength="15.6" lengthAdjust="spacingAndGlyphs">Jul</text><text x="888.16" y="521.7" textLength="27.4" lengthAdjust="spacingAndGlyphs" font-weight="bold" stroke-width="0">2026</text><text x="970.41" y="521.7" textLength="15.6" lengthAdjust="spacingAndGlyphs">Jul</text><text x="1040.86" y="521.7" textLength="27.4" lengthAdjust="spacingAndGlyphs" font-weight="bold" stroke-width="0">2027</text>
</g>
<path d="M1088.8 263.3H1118.5V280.8H1088.8Q1086.8 280.8 1086.8 278.8V265.3Q1086.8 263.3 1088.8 263.3Z" fill="#2962FF"/>
<path d="M1119 263.3H1166Q1168 263.3 1168 265.3V280.8H1119Z" fill="#2962FF"/>
<path d="M1119 281H1168V296.5Q1168 298.5 1166 298.5H1119Z" fill="#F23645"/>
<path d="M1118.8 450.2H1176.6Q1178.6 450.2 1178.6 452.2V466.2Q1178.6 468.2 1176.6 468.2H1118.8Z" fill="#ef5350"/>
<g font-size="12" fill="#fff" stroke="#fff" stroke-width="0.3">
<text x="1091.4" y="276.3" textLength="21.8" lengthAdjust="spacingAndGlyphs">Post</text>
<text x="1128.2" y="276.3" textLength="34.5" lengthAdjust="spacingAndGlyphs">109.63</text>
<text x="1128.2" y="294" textLength="34.5" lengthAdjust="spacingAndGlyphs">109.60</text>
<text x="1128.2" y="463.9" textLength="45.4" lengthAdjust="spacingAndGlyphs">112.64M</text>
</g>
<text x="10.3" y="19.2" font-size="11.4" fill="#131722" stroke="#131722" stroke-width="0.45" textLength="399" lengthAdjust="spacingAndGlyphs">intermarketflow created with TradingView.com, Apr 24, 2026 19:00 UTC-4</text>
<g fill="#111"><path d="M12.07 553.1H23.65V567.9H18.2V558.8H12.07Z"/><circle cx="28.9" cy="555.9" r="2.85"/><path d="M34.8 553.1H41.5L36 567.9H29.3Z"/></g>
<text x="48.8" y="567.6" font-size="20.5" fill="#111" stroke="#111" stroke-width="1.0" textLength="120.5" lengthAdjust="spacingAndGlyphs">TradingView</text>
</svg>
</body></html>
